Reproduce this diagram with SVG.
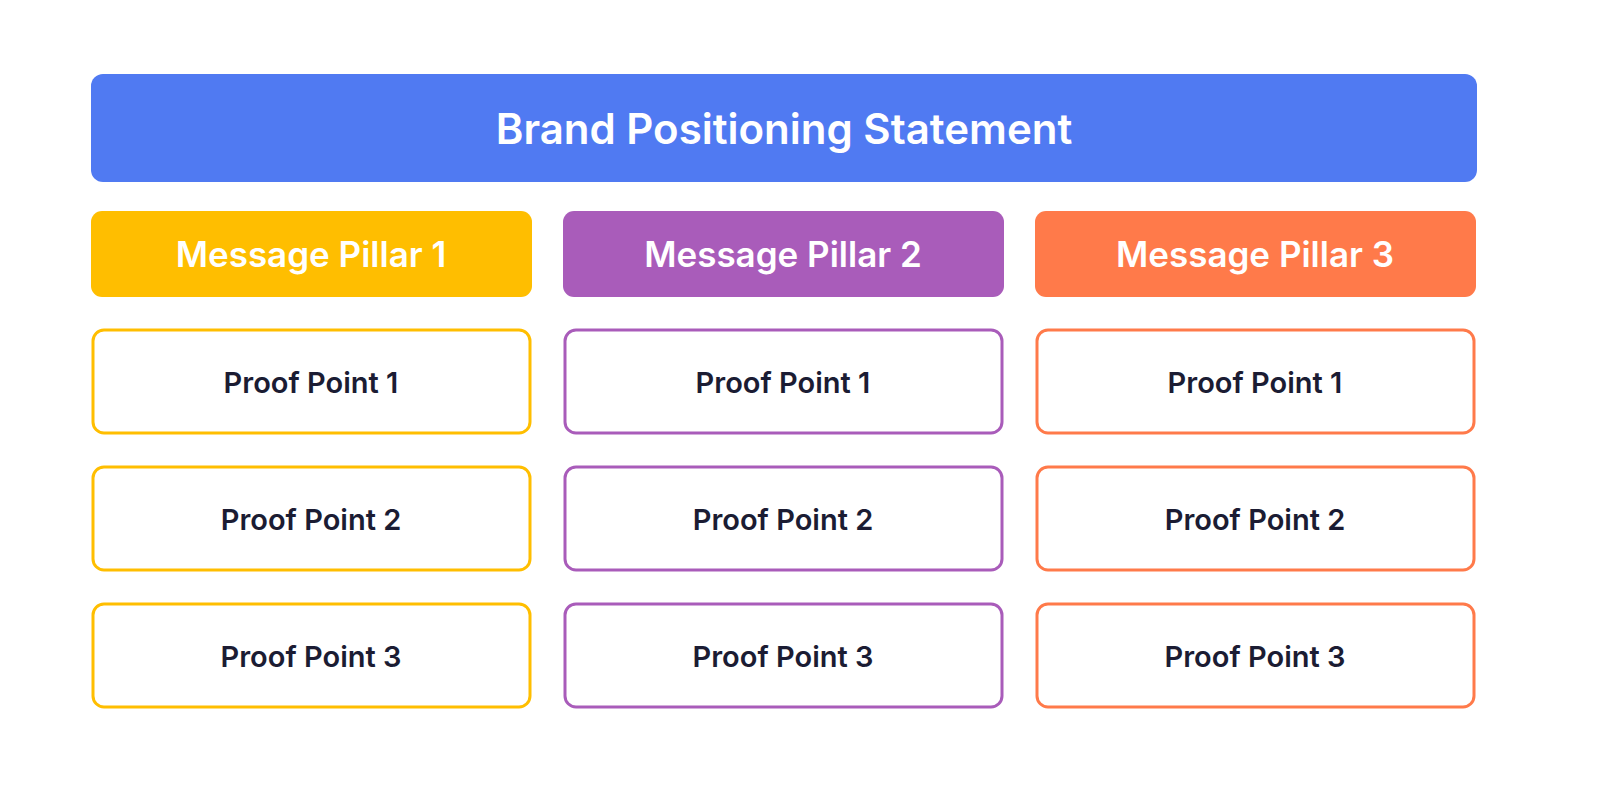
<svg xmlns="http://www.w3.org/2000/svg" width="1600" height="800" viewBox="0 0 1600 800">
<style>
text{font-family:Inter,"Open Sans","Liberation Sans",sans-serif;font-weight:600;text-anchor:middle;dominant-baseline:central}
.w{fill:#fff}
.pp{fill:#fff;stroke-width:3}
.pt{fill:#1b1c33;font-size:29px}
.ht{fill:#fff;font-size:35px}
</style>
<rect width="1600" height="800" fill="#fff"/>
<g id="brand"><rect x="91" y="74" width="1386" height="108" rx="12" fill="#507af2"/><text x="784" y="128" class="w" font-size="42">Brand Positioning Statement</text></g>
<g id="pillar1"><rect x="91" y="211" width="441" height="86" rx="11" fill="#ffbe00"/><text x="311" y="254" class="ht">Message Pillar 1</text></g>
<g id="pillar2"><rect x="563" y="211" width="441" height="86" rx="11" fill="#a95cba"/><text x="783" y="254" class="ht">Message Pillar 2</text></g>
<g id="pillar3"><rect x="1035" y="211" width="441" height="86" rx="11" fill="#ff7a4a"/><text x="1255" y="254" class="ht">Message Pillar 3</text></g>
<g id="p1a"><rect x="93" y="330" width="437" height="103" rx="11" class="pp" stroke="#ffbe00"/><text x="311" y="382" class="pt">Proof Point 1</text></g>
<g id="p1b"><rect x="93" y="467" width="437" height="103" rx="11" class="pp" stroke="#ffbe00"/><text x="311" y="519" class="pt">Proof Point 2</text></g>
<g id="p1c"><rect x="93" y="604" width="437" height="103" rx="11" class="pp" stroke="#ffbe00"/><text x="311" y="656" class="pt">Proof Point 3</text></g>
<g id="p2a"><rect x="565" y="330" width="437" height="103" rx="11" class="pp" stroke="#a95cba"/><text x="783" y="382" class="pt">Proof Point 1</text></g>
<g id="p2b"><rect x="565" y="467" width="437" height="103" rx="11" class="pp" stroke="#a95cba"/><text x="783" y="519" class="pt">Proof Point 2</text></g>
<g id="p2c"><rect x="565" y="604" width="437" height="103" rx="11" class="pp" stroke="#a95cba"/><text x="783" y="656" class="pt">Proof Point 3</text></g>
<g id="p3a"><rect x="1037" y="330" width="437" height="103" rx="11" class="pp" stroke="#ff7a4a"/><text x="1255" y="382" class="pt">Proof Point 1</text></g>
<g id="p3b"><rect x="1037" y="467" width="437" height="103" rx="11" class="pp" stroke="#ff7a4a"/><text x="1255" y="519" class="pt">Proof Point 2</text></g>
<g id="p3c"><rect x="1037" y="604" width="437" height="103" rx="11" class="pp" stroke="#ff7a4a"/><text x="1255" y="656" class="pt">Proof Point 3</text></g>
<g id="connectors"></g>
</svg>
